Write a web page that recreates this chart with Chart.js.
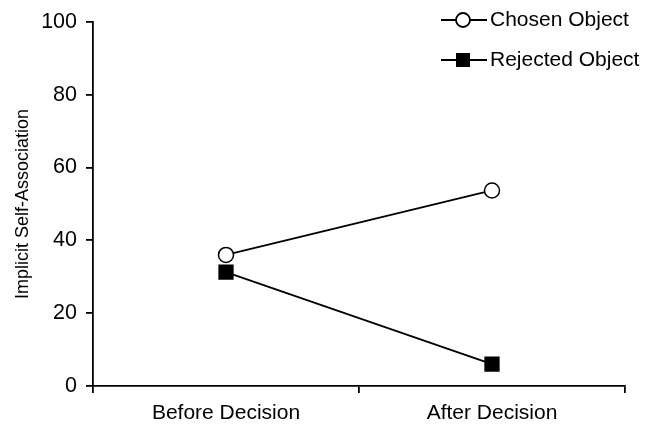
<!DOCTYPE html>
<html>
<head>
<meta charset="utf-8">
<script src="https://cdn.jsdelivr.net/npm/chart.js@4/dist/chart.umd.min.js"></script>
<style>
  html, body { margin: 0; padding: 0; background: #fff; }
  #wrap { width: 659px; height: 426px; }
</style>
</head>
<body>
<div id="wrap"><canvas id="chart"></canvas></div>
<script>
// -- DATA ----------------------------------------------
const categories = ["Before Decision", "After Decision"];
const chosenValues = [36, 53.7];
const rejectedValues = [31.3, 6];
const seriesNames = ["Chosen Object", "Rejected Object"];
const yTitle = "Implicit Self-Association";

const FONT = "'Liberation Sans', Arial, Helvetica, sans-serif";

// legend drawn as "line + marker + label" in the top right corner
const lineLegend = {
  id: "lineLegend",
  afterDraw(chart) {
    const ctx = chart.ctx;
    ctx.save();
    chart.data.datasets.forEach((ds, i) => {
      const y = 20 + i * 40;
      ctx.strokeStyle = "#000";
      ctx.lineWidth = 1.8;
      ctx.beginPath();
      ctx.moveTo(441, y);
      ctx.lineTo(487, y);
      ctx.stroke();
      if (ds.pointStyle === "circle") {
        ctx.beginPath();
        ctx.arc(463, y, 7, 0, Math.PI * 2);
        ctx.fillStyle = "#fff";
        ctx.fill();
        ctx.stroke();
      } else {
        ctx.fillStyle = "#000";
        ctx.fillRect(456, y - 7, 14, 14);
      }
      ctx.fillStyle = "#000";
      ctx.font = "21px " + FONT;
      ctx.textBaseline = "middle";
      ctx.textAlign = "left";
      ctx.fillText(ds.label, 490, y);
    });
    ctx.restore();
  }
};

new Chart(document.getElementById("chart"), {
  type: "line",
  data: {
    labels: categories,
    datasets: [
      {
        label: seriesNames[0],
        data: chosenValues,
        borderColor: "#000",
        borderWidth: 1.8,
        pointStyle: "circle",
        pointRadius: 7.5,
        pointBorderWidth: 1.5,
        pointBackgroundColor: "#fff",
        pointBorderColor: "#000",
        tension: 0
      },
      {
        label: seriesNames[1],
        data: rejectedValues,
        borderColor: "#000",
        borderWidth: 1.8,
        pointStyle: "rect",
        pointRadius: 10.8,
        pointBorderWidth: 0,
        pointBackgroundColor: "#000",
        pointBorderColor: "#000",
        tension: 0
      }
    ]
  },
  options: {
    responsive: true,
    maintainAspectRatio: false,
    animation: false,
    layout: { padding: { top: 17, right: 34, left: 0, bottom: 0 } },
    plugins: {
      legend: { display: false },
      tooltip: { enabled: false }
    },
    scales: {
      x: {
        offset: true,
        afterFit: (s) => { s.height = 40; },
        border: { color: "#000", width: 1.8 },
        grid: { drawOnChartArea: false, drawTicks: true, tickLength: 7, color: "#000", lineWidth: 1.8, offset: true },
        ticks: { color: "#000", font: { family: FONT, size: 21 }, padding: 8, maxRotation: 0 }
      },
      y: {
        min: 0,
        max: 100,
        afterFit: (s) => { s.width = 93; },
        border: { color: "#000", width: 1.8 },
        grid: { drawOnChartArea: false, drawTicks: true, tickLength: 7, color: "#000", lineWidth: 1.8 },
        ticks: { stepSize: 20, color: "#000", font: { family: FONT, size: 21.5 }, padding: 9 },
        title: {
          display: true,
          text: yTitle,
          color: "#000",
          font: { family: FONT, size: 18 },
          padding: { top: 12, bottom: 0 }
        }
      }
    }
  },
  plugins: [lineLegend]
});
</script>
</body>
</html>
